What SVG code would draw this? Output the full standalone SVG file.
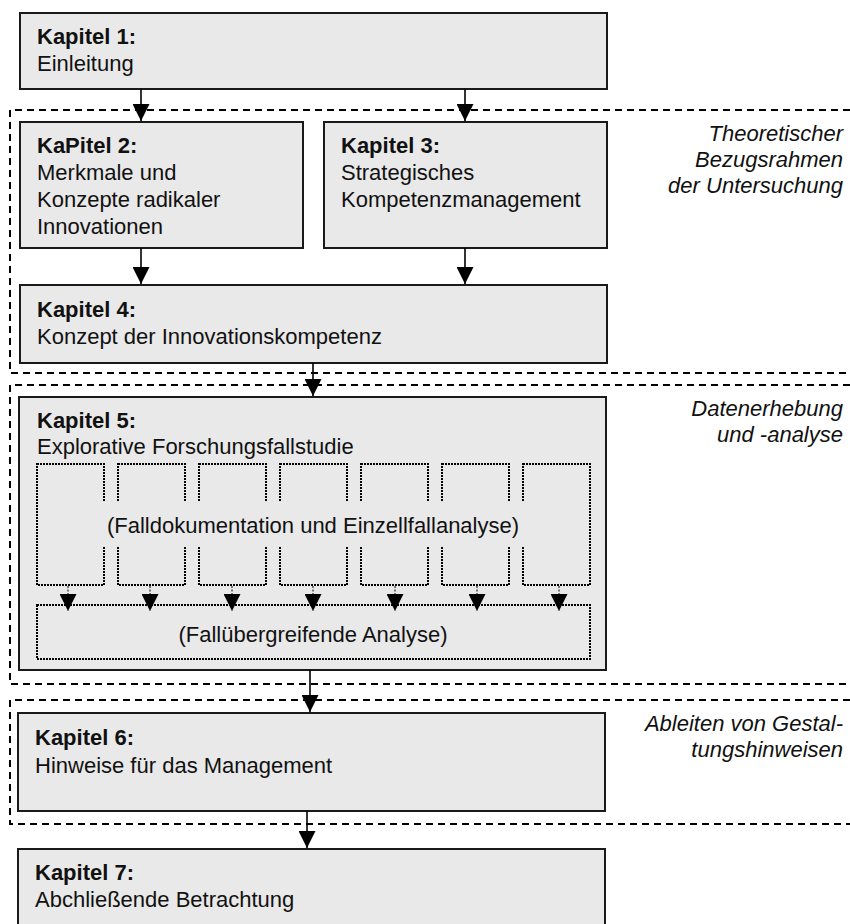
<svg xmlns="http://www.w3.org/2000/svg" width="850" height="924" viewBox="0 0 850 924">
<style>
  .box { fill: #e9e9e9; stroke: #1a1a1a; stroke-width: 2; }
  .t { font-family: "Liberation Sans", Arial, sans-serif; font-size: 22px; fill: #111; }
  .b { font-weight: bold; }
  .side { font-family: "Liberation Sans", Arial, sans-serif; font-size: 22px; font-style: italic; fill: #111; text-anchor: end; }
  .region { fill: none; stroke: #000; stroke-width: 2; stroke-dasharray: 7 5; }
  .dot { fill: none; stroke: #000; stroke-width: 2; stroke-dasharray: 2 1; }
  .conn { stroke: #000; stroke-width: 1.6; fill: none; }
  .dstem { stroke: #000; stroke-width: 1; stroke-dasharray: 2 1.5; fill: none; }
  .mid { text-anchor: middle; }
</style>
<defs>
  <marker id="arr" markerUnits="userSpaceOnUse" markerWidth="17" markerHeight="17" viewBox="0 0 17 17" refX="17" refY="8.5" orient="auto">
    <path d="M0,0 L17,8.5 L0,17 z" fill="#000"/>
  </marker>
</defs>
<rect width="850" height="924" fill="#fff"/>

<g id="regions">
  <path class="region" d="M850,110 H10 V373 H850"/>
  <path class="region" d="M850,385 H10 V684 H850"/>
  <path class="region" d="M850,700 H10 V824 H850"/>
</g>

<g id="side-labels">
  <text class="side" x="843" y="141">Theoretischer</text>
  <text class="side" x="843" y="167">Bezugsrahmen</text>
  <text class="side" x="843" y="193">der Untersuchung</text>
  <text class="side" x="843" y="416">Datenerhebung</text>
  <text class="side" x="843" y="442">und -analyse</text>
  <text class="side" x="843" y="731">Ableiten von Gestal-</text>
  <text class="side" x="843" y="757">tungshinweisen</text>
</g>

<g id="k1">
  <rect class="box" x="20" y="13" width="587" height="76"/>
  <text class="t b" x="37" y="44">Kapitel 1:</text>
  <text class="t" x="37" y="71">Einleitung</text>
</g>

<g id="k2">
  <rect class="box" x="20" y="122" width="283" height="126"/>
  <text class="t b" x="37" y="153">KaPitel 2:</text>
  <text class="t" x="37" y="180">Merkmale und</text>
  <text class="t" x="37" y="207">Konzepte radikaler</text>
  <text class="t" x="37" y="234">Innovationen</text>
</g>

<g id="k3">
  <rect class="box" x="324" y="122" width="283" height="126"/>
  <text class="t b" x="341" y="153">Kapitel 3:</text>
  <text class="t" x="341" y="180">Strategisches</text>
  <text class="t" x="341" y="207">Kompetenzmanagement</text>
</g>

<g id="k4">
  <rect class="box" x="20" y="285" width="587" height="78"/>
  <text class="t b" x="37" y="317">Kapitel 4:</text>
  <text class="t" x="37" y="344">Konzept der Innovationskompetenz</text>
</g>

<g id="k5">
  <rect class="box" x="19" y="397" width="587" height="273"/>
  <text class="t b" x="37" y="428">Kapitel 5:</text>
  <text class="t" x="37" y="454">Explorative Forschungsfallstudie</text>
  <g id="cases">
    <rect class="dot" x="37" y="464" width="67" height="121"/>
    <rect class="dot" x="118" y="464" width="67" height="121"/>
    <rect class="dot" x="199" y="464" width="67" height="121"/>
    <rect class="dot" x="280" y="464" width="67" height="121"/>
    <rect class="dot" x="361" y="464" width="67" height="121"/>
    <rect class="dot" x="442" y="464" width="67" height="121"/>
    <rect class="dot" x="523" y="464" width="67" height="121"/>
    <rect x="39" y="501" width="549" height="45" fill="#e9e9e9"/>
    <text class="t mid" x="313" y="533">(Falldokumentation und Einzellfallanalyse)</text>
  </g>
  <g id="cross-case">
    <rect class="dot" x="37" y="605" width="553" height="54"/>
    <text class="t mid" x="313" y="642">(Fallübergreifende Analyse)</text>
  </g>
</g>

<g id="k6">
  <rect class="box" x="18" y="713" width="587" height="98"/>
  <text class="t b" x="35" y="745">Kapitel 6:</text>
  <text class="t" x="35" y="773">Hinweise für das Management</text>
</g>

<g id="k7">
  <rect class="box" x="18" y="849" width="587" height="90"/>
  <text class="t b" x="35" y="880">Kapitel 7:</text>
  <text class="t" x="35" y="907">Abchließende Betrachtung</text>
</g>

<g id="connectors">
  <line class="conn" x1="141" y1="89" x2="141" y2="121" marker-end="url(#arr)"/>
  <line class="conn" x1="465" y1="89" x2="465" y2="121" marker-end="url(#arr)"/>
  <line class="conn" x1="141" y1="248" x2="141" y2="284" marker-end="url(#arr)"/>
  <line class="conn" x1="465" y1="248" x2="465" y2="284" marker-end="url(#arr)"/>
  <line class="conn" x1="313" y1="363" x2="313" y2="396" marker-end="url(#arr)"/>
  <line class="conn" x1="310" y1="670" x2="310" y2="712" marker-end="url(#arr)"/>
  <line class="conn" x1="307" y1="811" x2="307" y2="848" marker-end="url(#arr)"/>
  <line class="dstem" x1="68" y1="586" x2="68" y2="611" marker-end="url(#arr)"/>
  <line class="dstem" x1="150" y1="586" x2="150" y2="611" marker-end="url(#arr)"/>
  <line class="dstem" x1="232" y1="586" x2="232" y2="611" marker-end="url(#arr)"/>
  <line class="dstem" x1="313" y1="586" x2="313" y2="611" marker-end="url(#arr)"/>
  <line class="dstem" x1="395" y1="586" x2="395" y2="611" marker-end="url(#arr)"/>
  <line class="dstem" x1="477" y1="586" x2="477" y2="611" marker-end="url(#arr)"/>
  <line class="dstem" x1="559" y1="586" x2="559" y2="611" marker-end="url(#arr)"/>
</g>
</svg>
